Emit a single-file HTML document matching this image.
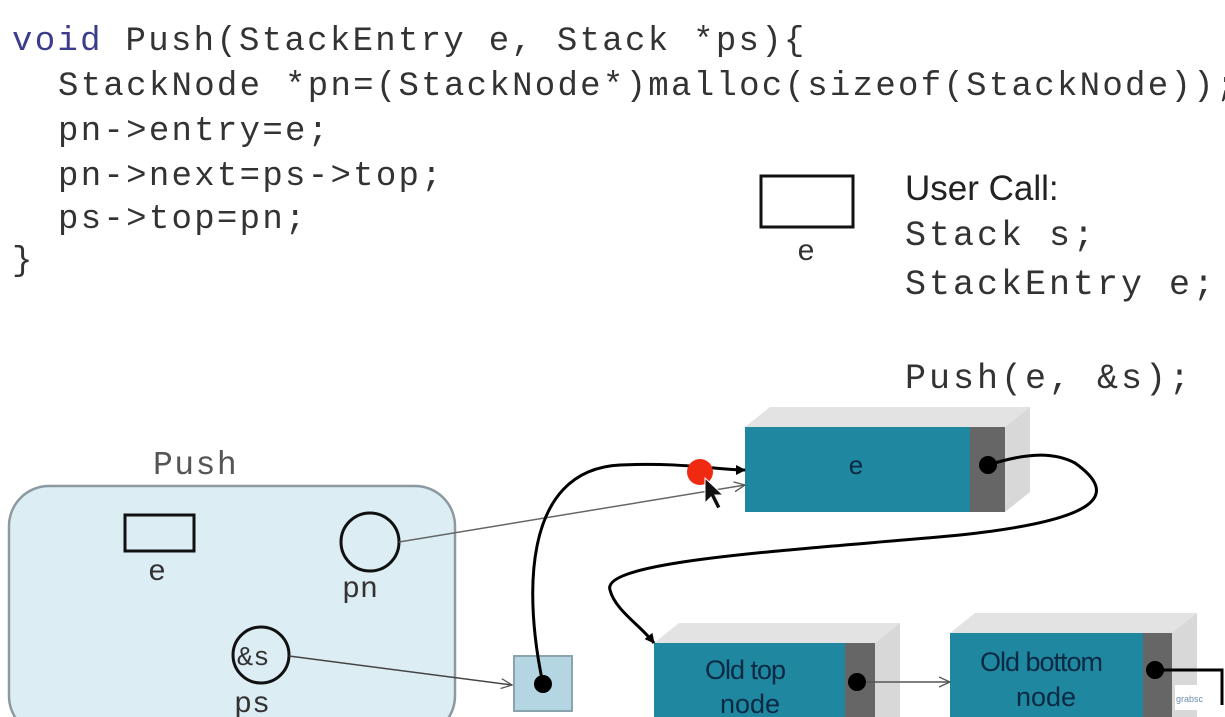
<!DOCTYPE html>
<html><head><meta charset="utf-8"><style>
html,body{margin:0;padding:0;background:#fff;}
svg{display:block;}
.c{font-family:"Liberation Mono",monospace;fill:#333;}
</style></head><body>
<svg width="1225" height="717" viewBox="0 0 1225 717" xmlns="http://www.w3.org/2000/svg">
<defs>
<marker id="ah" markerWidth="10" markerHeight="10" refX="9" refY="5" orient="auto" markerUnits="userSpaceOnUse"><path d="M0,0 L10,5 L0,10 z" fill="#000"/></marker>
<marker id="oh" markerWidth="12" markerHeight="12" refX="11" refY="6" orient="auto" markerUnits="userSpaceOnUse"><path d="M0,1 L11,6 L0,11" fill="none" stroke="#555" stroke-width="1.3"/></marker>
</defs>
<g class="c" font-size="34" letter-spacing="2.3">
<text x="12" y="50"><tspan fill="#3c3c8c">void</tspan> Push(StackEntry e, Stack *ps){</text>
<text x="58" y="95">StackNode *pn=(StackNode*)malloc(sizeof(StackNode));</text>
<text x="58" y="140">pn-&gt;entry=e;</text>
<text x="58" y="185">pn-&gt;next=ps-&gt;top;</text>
<text x="58" y="228">ps-&gt;top=pn;</text>
<text x="12" y="270">}</text>
<text x="905" y="245" font-size="35" letter-spacing="3">Stack s;</text>
<text x="905" y="294" font-size="35" letter-spacing="3">StackEntry e;</text>
<text x="905" y="388" font-size="35" letter-spacing="3">Push(e, &amp;s);</text>
<text x="153" y="474" font-size="33" letter-spacing="1.5" fill="#555">Push</text>
</g>
<text x="905" y="200" font-family="Liberation Sans,sans-serif" font-size="35" fill="#222">User Call:</text>
<rect x="761" y="176" width="92" height="51" fill="none" stroke="#111" stroke-width="3"/>
<text x="797" y="260" class="c" font-size="30" fill="#555">e</text>

<rect x="9" y="486" width="446" height="250" rx="40" fill="#dcedf3" stroke="#8a9aa0" stroke-width="2.5"/>
<rect x="125" y="515" width="69" height="36" fill="none" stroke="#111" stroke-width="3"/>
<text x="148" y="580" class="c" font-size="30" fill="#555">e</text>
<circle cx="370" cy="542" r="29" fill="none" stroke="#111" stroke-width="3"/>
<text x="342" y="597" class="c" font-size="30" fill="#555">pn</text>
<circle cx="261" cy="655" r="28" fill="none" stroke="#111" stroke-width="3"/>
<text x="237" y="665" class="c" font-size="27" fill="#444">&amp;s</text>
<text x="234" y="712" class="c" font-size="30" fill="#555">ps</text>

<rect x="514" y="656" width="58" height="55" fill="#b4d6e2" stroke="#8aa3ad" stroke-width="2"/>
<circle cx="543" cy="684" r="9" fill="#000"/>

<polygon points="745,427 770,407 1030,407 1005,427" fill="#e3e3e3"/>
<polygon points="1005,427 1030,407 1030,492 1005,512" fill="#d8d8d8"/>
<rect x="745" y="427" width="225" height="85" fill="#1f87a0"/>
<rect x="970" y="427" width="35" height="85" fill="#666"/>
<text x="856" y="474" font-family="Liberation Sans,sans-serif" font-size="26" fill="#0a2a44" text-anchor="middle">e</text>
<circle cx="988" cy="465" r="9" fill="#000"/>

<polygon points="654,643 679,623 900,623 875,643" fill="#e3e3e3"/>
<polygon points="875,643 900,623 900,717 875,717" fill="#d8d8d8"/>
<rect x="654" y="643" width="191" height="74" fill="#1f87a0"/>
<rect x="845" y="643" width="30" height="74" fill="#666"/>
<text x="745" y="679" font-family="Liberation Sans,sans-serif" font-size="27" fill="#0a2a44" text-anchor="middle" letter-spacing="-1">Old top</text>
<text x="750" y="713" font-family="Liberation Sans,sans-serif" font-size="27" fill="#0a2a44" text-anchor="middle">node</text>
<circle cx="857" cy="682" r="9" fill="#000"/>

<polygon points="950,633 975,613 1197,613 1172,633" fill="#e3e3e3"/>
<polygon points="1172,633 1197,613 1197,717 1172,717" fill="#d8d8d8"/>
<rect x="950" y="633" width="193" height="84" fill="#1f87a0"/>
<rect x="1143" y="633" width="29" height="84" fill="#666"/>
<text x="1041" y="671" font-family="Liberation Sans,sans-serif" font-size="27" fill="#0a2a44" text-anchor="middle" letter-spacing="-1">Old bottom</text>
<text x="1046" y="706" font-family="Liberation Sans,sans-serif" font-size="27" fill="#0a2a44" text-anchor="middle">node</text>
<circle cx="1155" cy="670" r="9" fill="#000"/>
<path d="M1155,670 L1222,670 L1222,705" fill="none" stroke="#000" stroke-width="3"/>
<rect x="1175" y="685" width="40" height="25" fill="#fff"/>
<text x="1176" y="702" font-family="Liberation Sans,sans-serif" font-size="9" fill="#6a8fb0">grabsc</text>

<line x1="399" y1="542" x2="745" y2="485" stroke="#666" stroke-width="1.5" marker-end="url(#oh)"/>
<line x1="289" y1="656" x2="512" y2="685" stroke="#444" stroke-width="1.5" marker-end="url(#oh)"/>
<line x1="866" y1="682" x2="950" y2="682" stroke="#555" stroke-width="1.5" marker-end="url(#oh)"/>
<path d="M543,684 C525,600 520,470 620,465 C680,462 720,470 745,470" fill="none" stroke="#000" stroke-width="3" marker-end="url(#ah)"/>
<path d="M988,465 C1020,455 1050,450 1075,463 C1120,495 1100,520 960,535 C800,550 600,560 610,590 C615,610 640,625 654,643" fill="none" stroke="#000" stroke-width="3" marker-end="url(#ah)"/>
<circle cx="700" cy="472" r="13" fill="#f02a10"/>
<path d="M705,478 L705,503 L711,497 L717,509 L721,507 L715,495 L723,495 z" fill="#111" stroke="#fff" stroke-width="1"/>
</svg>
</body></html>
